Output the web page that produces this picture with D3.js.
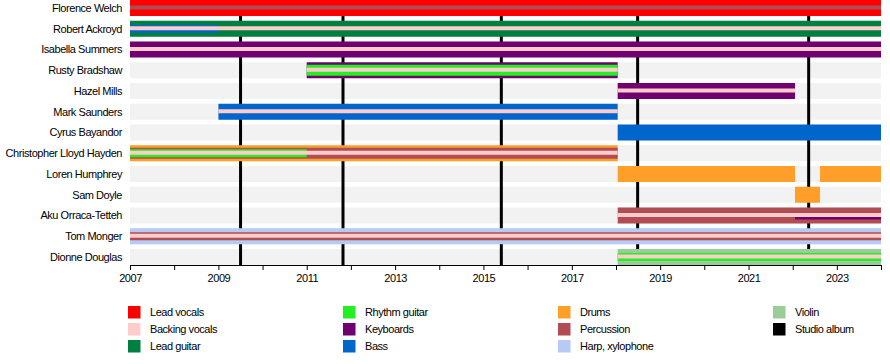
<!DOCTYPE html>
<html><head><meta charset="utf-8">
<script src="https://cdn.jsdelivr.net/npm/d3@7"></script>
<style>
body{margin:0;background:#fff;}
text{font-family:"Liberation Sans",Arial,sans-serif;letter-spacing:-0.45px;}
</style></head>
<body><svg id="c" width="890" height="364"></svg>
<script>
const members = ["Florence Welch","Robert Ackroyd","Isabella Summers","Rusty Bradshaw","Hazel Mills","Mark Saunders","Cyrus Bayandor","Christopher Lloyd Hayden","Loren Humphrey","Sam Doyle","Aku Orraca-Tetteh","Tom Monger","Dionne Douglas"];

const roleNames = ["Lead vocals","Backing vocals","Lead guitar","Rhythm guitar","Keyboards","Bass","Drums","Percussion","Harp, xylophone","Violin","Studio album"];
const roleColors = ["#ff0000","#ffcccc","#008040","#22f022","#700070","#0066cc","#ff9f2a","#b04d52","#b5cbf6","#99cc99","#000000"];

// [member, role, from, till, layer]
const periods = [
  ["Florence Welch","Lead vocals","2007-01-01","2024-01-01","main"],
  ["Florence Welch","Percussion","2007-01-01","2024-01-01","thin"],
  ["Robert Ackroyd","Lead guitar","2007-01-01","2024-01-01","main"],
  ["Robert Ackroyd","Bass","2007-01-01","2009-01-01","mid"],
  ["Robert Ackroyd","Backing vocals","2007-01-01","2024-01-01","thin"],
  ["Isabella Summers","Keyboards","2007-01-01","2024-01-01","main"],
  ["Isabella Summers","Backing vocals","2007-01-01","2024-01-01","thin"],
  ["Rusty Bradshaw","Keyboards","2011-01-01","2018-01-15","main"],
  ["Rusty Bradshaw","Rhythm guitar","2011-01-01","2018-01-15","wide"],
  ["Rusty Bradshaw","Backing vocals","2011-01-01","2018-01-15","thin"],
  ["Hazel Mills","Keyboards","2018-01-15","2022-01-20","main"],
  ["Hazel Mills","Backing vocals","2018-01-15","2022-01-20","thin"],
  ["Mark Saunders","Bass","2009-01-01","2018-01-15","main"],
  ["Mark Saunders","Backing vocals","2009-01-01","2018-01-15","thin"],
  ["Cyrus Bayandor","Bass","2018-01-15","2024-01-01","main"],
  ["Christopher Lloyd Hayden","Drums","2007-01-01","2018-01-15","main"],
  ["Christopher Lloyd Hayden","Percussion","2007-01-01","2018-01-15","wide"],
  ["Christopher Lloyd Hayden","Rhythm guitar","2007-01-01","2011-01-01","mid"],
  ["Christopher Lloyd Hayden","Backing vocals","2007-01-01","2018-01-15","thin"],
  ["Loren Humphrey","Drums","2018-01-15","2022-01-20","main"],
  ["Loren Humphrey","Drums","2022-08-15","2024-01-01","main"],
  ["Sam Doyle","Drums","2022-01-20","2022-08-15","main"],
  ["Aku Orraca-Tetteh","Percussion","2018-01-15","2024-01-01","main"],
  ["Aku Orraca-Tetteh","Backing vocals","2018-01-15","2024-01-01","thin"],
  ["Aku Orraca-Tetteh","Keyboards","2022-01-20","2024-01-01","low"],
  ["Tom Monger","Harp, xylophone","2007-01-01","2024-01-01","main"],
  ["Tom Monger","Percussion","2007-01-01","2024-01-01","mid"],
  ["Tom Monger","Backing vocals","2007-01-01","2024-01-01","thin"],
  ["Dionne Douglas","Violin","2018-01-15","2024-01-01","main"],
  ["Dionne Douglas","Rhythm guitar","2018-01-15","2024-01-01","mid"],
  ["Dionne Douglas","Backing vocals","2018-01-15","2024-01-01","thin"]
];

const albums = ["2009-07-03","2011-10-28","2015-05-29","2018-06-29","2022-05-13"];
const domainDates = ["2007-01-01","2024-01-01"];
const tickYears = [2007,2008,2009,2010,2011,2012,2013,2014,2015,2016,2017,2018,2019,2020,2021,2022,2023,2024];
const labelYears = [2007,2009,2011,2013,2015,2017,2019,2021,2023];

const parse = d3.timeParse("%Y-%m-%d");
const svg = d3.select("#c");
const x = d3.scaleTime().domain(domainDates.map(parse)).range([130, 881]);
const y = d3.scalePoint().domain(members).range([8, 257]);
const color = d3.scaleOrdinal().domain(roleNames).range(roleColors);
const layerH = {main:16, wide:11, mid:8, thin:4, low:3};
const layerOff = {main:0, wide:0, mid:0, thin:-0.5, low:2.5};
const BH = 16;

// row backgrounds
svg.append("g").selectAll("rect").data(members).join("rect")
  .attr("x", x.range()[0]).attr("width", x.range()[1]-x.range()[0])
  .attr("y", d => y(d)-BH/2).attr("height", BH).attr("fill", "#f2f2f2");

// album lines
svg.append("g").selectAll("line").data(albums).join("line")
  .attr("x1", d => x(parse(d))).attr("x2", d => x(parse(d)))
  .attr("y1", 0).attr("y2", 265).attr("stroke", "#000").attr("stroke-width", 3);

// bars
const order = ["main","wide","mid","low","thin"];
const sorted = periods.slice().sort((a,b)=>order.indexOf(a[4])-order.indexOf(b[4]));
svg.append("g").selectAll("rect").data(sorted).join("rect")
  .attr("x", d => x(parse(d[2])))
  .attr("width", d => x(parse(d[3])) - x(parse(d[2])))
  .attr("y", d => y(d[0]) + layerOff[d[4]] - layerH[d[4]]/2)
  .attr("height", d => layerH[d[4]])
  .attr("fill", d => color(d[1]));

// member labels
svg.append("g").selectAll("text").data(members).join("text")
  .attr("x", 122).attr("y", d => y(d)).attr("dy", "0.35em")
  .attr("text-anchor", "end").attr("font-size", 11).attr("fill", "#000")
  .text(d => d);

// axis
const axis = d3.axisBottom(x)
  .tickValues(tickYears.map(v => new Date(v,0,1)))
  .tickSize(5).tickPadding(4)
  .tickFormat(d => labelYears.includes(d.getFullYear()) ? d.getFullYear() : "");
const ag = svg.append("g").attr("transform", "translate(0,265)").call(axis);
ag.select(".domain").attr("stroke", "#000").attr("d", `M${x.range()[0]},0.5H${x.range()[1]}`);
ag.selectAll(".tick line").attr("stroke", "#000");
ag.selectAll(".tick text").attr("font-size", 11).attr("fill", "#000")
  .attr("font-family", '"Liberation Sans",Arial,sans-serif');

// legend
const legendCols = [128, 343, 558, 773];
const legendRows = 3;
const lg = svg.append("g").selectAll("g").data(roleNames).join("g")
  .attr("transform", (d,i) => `translate(${legendCols[Math.floor(i/legendRows)]},${306 + (i%legendRows)*17})`);
lg.append("rect").attr("width", 12.5).attr("height", 12.5).attr("fill", d => color(d));
lg.append("text").attr("x", 22).attr("y", 6.5).attr("dy", "0.35em")
  .attr("font-size", 11).attr("fill", "#000").text(d => d);
</script></body></html>
